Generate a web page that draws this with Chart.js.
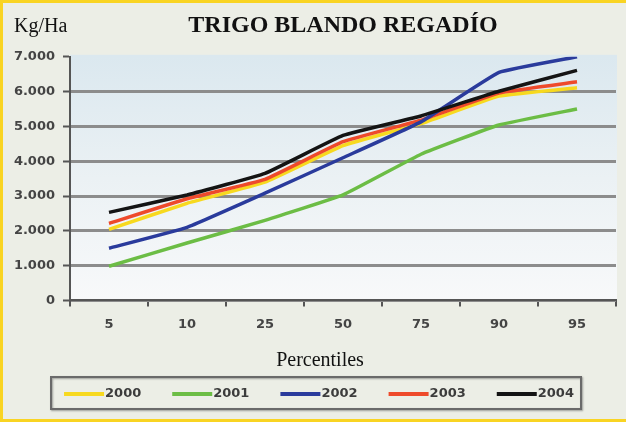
<!DOCTYPE html>
<html>
<head>
<meta charset="utf-8">
<script src="https://cdn.jsdelivr.net/npm/chart.js@4/dist/chart.umd.min.js"></script>
<style>
  html, body { margin: 0; padding: 0; background: #eceee6; }
  canvas { display: block; }
</style>
</head>
<body>
<canvas id="c" width="626" height="422"></canvas>
<script>
// ---- data ----
const categories = ['5', '10', '25', '50', '75', '90', '95'];
const seriesNames = ['2000', '2001', '2002', '2003', '2004'];
const s2000 = [2040, 2790, 3400, 4450, 5080, 5870, 6110];
const s2001 = [980, 1650, 2300, 3030, 4200, 5040, 5500];
const s2002 = [1500, 2100, 3080, 4100, 5130, 6550, 7000];
const s2003 = [2210, 2920, 3480, 4560, 5180, 5960, 6280];
const s2004 = [2530, 3030, 3650, 4740, 5300, 6010, 6610];
const yTickValues = [0, 1000, 2000, 3000, 4000, 5000, 6000, 7000];
const titleText = 'TRIGO BLANDO REGADÍO';
const yUnitText = 'Kg/Ha';
const xTitleText = 'Percentiles';

const colors = ['#f7d91f', '#6cbd45', '#2a3b9c', '#ee4a2b', '#141414'];
const orders = [4, 5, 2, 3, 1];
const values = [s2000, s2001, s2002, s2003, s2004];

const fmt = v => String(v).replace(/\B(?=(\d{3})+(?!\d))/g, '.');

const decor = {
  id: 'decor',
  beforeDraw(chart) {
    const ctx = chart.ctx, W = chart.width, H = chart.height, a = chart.chartArea;
    ctx.save();
    ctx.fillStyle = '#eceee6';
    ctx.fillRect(0, 0, W, H);
    ctx.fillStyle = '#f9d423';
    ctx.fillRect(0, 0, W, 3);
    ctx.fillRect(0, 0, 3, H);
    ctx.fillRect(0, H - 3, W, 3);
    const g = ctx.createLinearGradient(0, a.top, 0, a.bottom);
    g.addColorStop(0, '#dbe8ef');
    g.addColorStop(0.5, '#ebf1f4');
    g.addColorStop(1, '#f8f9fa');
    ctx.fillStyle = g;
    ctx.fillRect(a.left, a.top - 2, a.right - a.left + 1, a.bottom - a.top + 2);
    ctx.restore();
  },
  afterDraw(chart) {
    const ctx = chart.ctx, a = chart.chartArea;
    ctx.save();
    // unit label
    ctx.fillStyle = '#111';
    ctx.font = '20px "Liberation Serif"';
    ctx.textAlign = 'left';
    ctx.textBaseline = 'alphabetic';
    ctx.fillText(yUnitText, 14, 32);
    // x axis title
    ctx.textAlign = 'center';
    ctx.fillText(xTitleText, 320, 366);
    // legend
    const top = 377, bottom = 409;
    ctx.font = 'bold 13px "DejaVu Sans"';
    const lineW = 40, gap = 31;
    const ds = chart.data.datasets;
    const widths = ds.map(d => lineW + 1 + ctx.measureText(d.label).width);
    const total = widths.reduce((s, w) => s + w, 0) + gap * (ds.length - 1);
    const boxL = 51, boxR = 581;
    let x = (boxL + boxR) / 2 - total / 2 + 3;
    ctx.shadowColor = 'rgba(0,0,0,0.35)';
    ctx.shadowBlur = 2;
    ctx.shadowOffsetX = 1;
    ctx.shadowOffsetY = 1;
    ctx.strokeStyle = '#6a6a6a';
    ctx.lineWidth = 2;
    ctx.strokeRect(boxL, top, boxR - boxL, bottom - top);
    ctx.shadowColor = 'transparent';
    const cy = (top + bottom) / 2 + 1;
    ds.forEach((d, i) => {
      ctx.strokeStyle = d.borderColor;
      ctx.lineWidth = 4;
      ctx.beginPath();
      ctx.moveTo(x, cy);
      ctx.lineTo(x + lineW, cy);
      ctx.stroke();
      ctx.fillStyle = '#3c3c3c';
      ctx.textAlign = 'left';
      ctx.textBaseline = 'middle';
      ctx.fillText(d.label, x + lineW + 1, cy);
      x += widths[i] + gap;
    });
    ctx.restore();
  }
};

new Chart(document.getElementById('c'), {
  type: 'line',
  data: {
    labels: categories,
    datasets: seriesNames.map((n, i) => ({
      label: n,
      data: values[i],
      borderColor: colors[i],
      backgroundColor: colors[i],
      borderWidth: 3.5,
      pointRadius: 0,
      tension: 0.1,
      order: orders[i],
      fill: false
    }))
  },
  options: {
    responsive: false,
    devicePixelRatio: 1,
    animation: false,
    layout: { padding: { left: 0, right: 10, top: 0, bottom: 80 } },
    plugins: {
      legend: { display: false },
      tooltip: { enabled: false },
      title: {
        display: true,
        text: titleText,
        fullSize: false,
        color: '#111',
        font: { family: 'Liberation Serif', size: 24, weight: 'bold' },
        padding: { top: 11, bottom: 17 }
      }
    },
    scales: {
      x: {
        type: 'category',
        offset: true,
        grid: {
          offset: true,
          drawOnChartArea: false,
          drawTicks: true,
          tickLength: 6,
          color: '#555',
          lineWidth: 2
        },
        border: { color: '#555', width: 2 },
        ticks: {
          color: '#444',
          padding: 10,
          font: { family: 'DejaVu Sans', size: 13, weight: 'bold' }
        }
      },
      y: {
        min: 0,
        max: 7000,
        afterFit: s => { s.width = 70; },
        afterBuildTicks: s => { s.ticks = yTickValues.map(v => ({ value: v })); },
        grid: {
          color: c => (c.tick && c.tick.value === 7000) ? 'rgba(0,0,0,0)' : '#8c8c8c',
          lineWidth: 3,
          tickColor: '#555',
          tickWidth: 2,
          tickLength: 7
        },
        border: { color: '#555', width: 2 },
        ticks: {
          color: '#444',
          padding: 8,
          font: { family: 'DejaVu Sans', size: 13, weight: 'bold' },
          callback: v => fmt(v)
        }
      }
    }
  },
  plugins: [decor]
});
</script>
</body>
</html>
